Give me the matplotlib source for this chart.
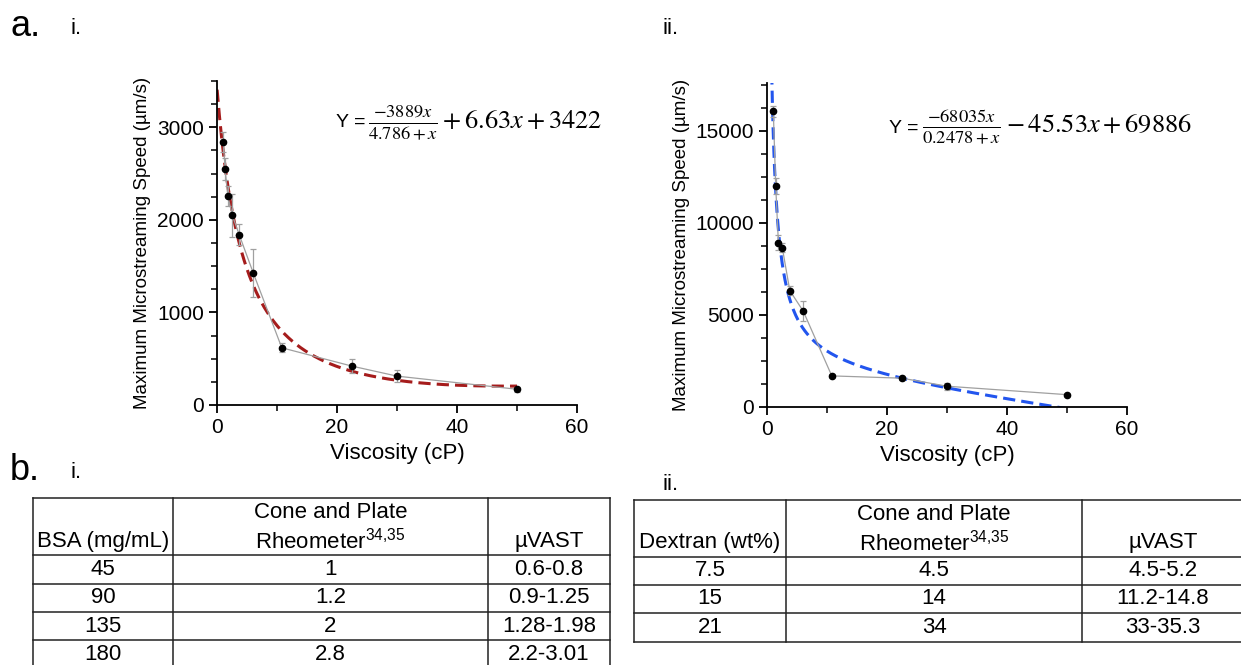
import numpy as np
import matplotlib.pyplot as plt
from matplotlib.ticker import MultipleLocator

plt.rcParams['font.family'] = ['Liberation Sans', 'DejaVu Sans']
plt.rcParams['mathtext.fontset'] = 'custom'
plt.rcParams['mathtext.rm'] = 'Liberation Sans'
plt.rcParams['mathtext.it'] = 'Liberation Sans:italic'

# panel a.i  - BSA
visc_bsa = [1.05, 1.35, 1.8, 2.55, 3.7, 6.05, 10.8, 22.5, 30.0, 50.0]
speed_bsa = [2840, 2550, 2255, 2050, 1840, 1425, 618, 420, 312, 170]
err_bsa = [110, 120, 110, 230, 110, 260, 50, 75, 65, 25]

# panel a.ii - Dextran
visc_dex = [1.05, 1.45, 1.9, 2.55, 3.8, 6.05, 10.8, 22.5, 30.0, 50.0]
speed_dex = [16070, 12010, 8925, 8650, 6325, 5200, 1690, 1565, 1130, 670]
err_dex = [300, 450, 400, 250, 250, 550, 80, 100, 180, 60]

# fit coefficients shown on the chart
fit_bsa = (-3889, 4.786, 6.63, 3422)
fit_dex = (-68035, 0.2478, -45.53, 69886)

# tables
cols_bsa = ['BSA (mg/mL)', 'Rheometer', 'µVAST']
rows_bsa = [['45', '1', '0.6-0.8'],
            ['90', '1.2', '0.9-1.25'],
            ['135', '2', '1.28-1.98'],
            ['180', '2.8', '2.2-3.01']]
cols_dex = ['Dextran (wt%)', 'Rheometer', 'µVAST']
rows_dex = [['7.5', '4.5', '4.5-5.2'],
            ['15', '14', '11.2-14.8'],
            ['21', '34', '33-35.3']]


def fit_curve(x, a, b, c, d):
    return a * x / (b + x) + c * x + d


def speed_panel(ax, x, y, e, fit, color, ylim, major, minor, eq, eqpos):
    xs = np.linspace(0.02, 50, 400)
    ax.errorbar(x, y, yerr=e, fmt='o', color='black', ms=4.5, ecolor='#a0a0a0',
                elinewidth=0.9, capsize=2.5, capthick=0.9, zorder=4)
    ax.plot(x, y, color='#a0a0a0', lw=0.9, zorder=3)
    ax.plot(xs, fit_curve(xs, *fit), color=color, lw=2.2, ls=(0, (4, 2)), zorder=2)
    ax.set_xlim(0, 60)
    ax.set_ylim(*ylim)
    ax.xaxis.set_major_locator(MultipleLocator(20))
    ax.xaxis.set_minor_locator(MultipleLocator(10))
    ax.yaxis.set_major_locator(MultipleLocator(major))
    ax.yaxis.set_minor_locator(MultipleLocator(minor))
    for s in ['top', 'right']:
        ax.spines[s].set_visible(False)
    for s in ['left', 'bottom']:
        ax.spines[s].set_linewidth(1.3)
    ax.tick_params(which='major', length=6, width=1.3, labelsize=15)
    ax.tick_params(which='minor', length=4, width=1.1)
    ax.set_xlabel('Viscosity (cP)', fontsize=16)
    ax.set_ylabel('Maximum Microstreaming Speed (µm/s)', fontsize=13.5)
    t1 = ax.text(eqpos[0], eqpos[1], 'Y =', transform=ax.transAxes, fontsize=14,
                 ha='left', va='center')
    ax.annotate(eq, xy=(1, 0.5), xycoords=t1, xytext=(2, 0), textcoords='offset points',
                fontsize=19, math_fontfamily='stix', ha='left', va='center')


fig = plt.figure(figsize=(12.41, 6.65), dpi=100)
W, H = 1241, 665

ax1 = fig.add_axes([217 / W, (H - 405) / H, 360 / W, 324 / H])
speed_panel(ax1, visc_bsa, speed_bsa, err_bsa, fit_bsa, '#a51c1c', (0, 3500), 1000, 250,
            r'$\frac{-3889x}{4.786+x} + 6.63x + 3422$', (0.33, 0.872))

ax2 = fig.add_axes([767 / W, (H - 407) / H, 360 / W, 324 / H])
speed_panel(ax2, visc_dex, speed_dex, err_dex, fit_dex, '#2255ee', (0, 17600), 5000, 1250,
            r'$\frac{-68035x}{0.2478+x} - 45.53x + 69886$', (0.34, 0.86))

# overlay in pixel units for the labels and tables
ov = fig.add_axes([0, 0, 1, 1])
ov.set_xlim(0, W)
ov.set_ylim(H, 0)
ov.axis('off')

ov.text(10, 27, 'a.', fontsize=26, va='center')
ov.text(70, 29, 'i.', fontsize=16, va='center')
ov.text(662, 29, 'ii.', fontsize=16, va='center')
ov.text(10, 470, 'b.', fontsize=26, va='center')
ov.text(70, 472, 'i.', fontsize=16, va='center')
ov.text(662, 485, 'ii.', fontsize=16, va='center')


def draw_table(xe, ye, cols, rows):
    for x in xe:
        ov.plot([x, x], [ye[0], ye[-1]], color='#222222', lw=1.1)
    for y in ye:
        ov.plot([xe[0], xe[-1]], [y, y], color='#222222', lw=1.1)
    cx = [(xe[i] + xe[i + 1]) / 2 for i in range(len(xe) - 1)]
    yh = ye[1] - 14
    for i, c in enumerate(cols):
        if c == 'Rheometer':
            ov.text(cx[i], ye[0] + 15, 'Cone and Plate', fontsize=16, ha='center', va='center')
            ov.text(cx[i], yh, r'Rheometer$^{34{,}35}$', fontsize=16, ha='center', va='center')
        else:
            ov.text(cx[i], yh, c, fontsize=16, ha='center', va='center')
    for r, row in enumerate(rows):
        yc = (ye[r + 1] + ye[r + 2]) / 2
        for i, v in enumerate(row):
            ov.text(cx[i], yc, v, fontsize=16, ha='center', va='center')


draw_table([33, 173, 488, 610], [498, 555, 583.5, 612, 640, 668], cols_bsa, rows_bsa)
draw_table([634, 786, 1082, 1244], [500, 556.5, 584.5, 613, 641.5], cols_dex, rows_dex)

fig.savefig('out.png', dpi=100)
